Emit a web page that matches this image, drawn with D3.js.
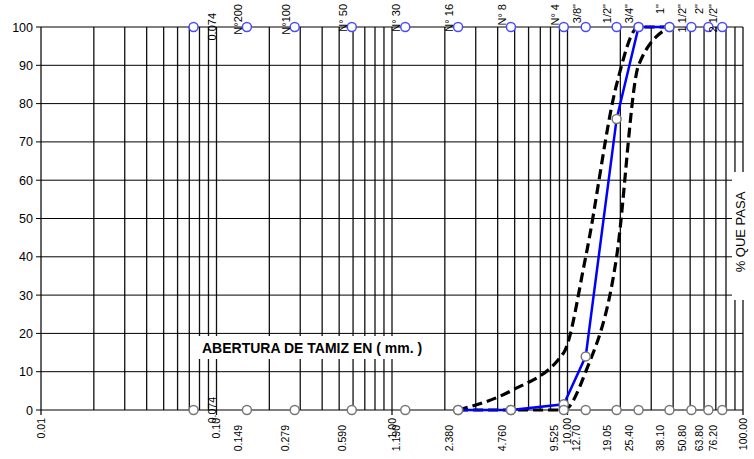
<!DOCTYPE html>
<html>
<head>
<meta charset="utf-8">
<script src="https://cdn.jsdelivr.net/npm/d3@7/dist/d3.min.js"></script>
<style>
  body { margin: 0; background: #fff; }
  text { font-family: Arial, "Liberation Sans", sans-serif; fill: #000; }
</style>
</head>
<body>
<svg id="chart" width="754" height="459"></svg>
<script>
// sieve openings (mm) shown as marker rows at 0 % and 100 %
var sieveMm = [0.074, 0.149, 0.279, 0.590, 1.190, 2.380, 4.760, 9.525, 12.70, 19.05, 25.40, 38.10, 50.80, 63.50, 76.20];
var topLabels = ["0.074", "N°200", "N°100", "N° 50", "N° 30", "N° 16", "N° 8", "N° 4", "3/8\"", "1/2\"", "3/4\"", "1\"", "1 1/2\"", "2\"", "2 1/2\""];
var bottomLabels = ["0.074", "0.149", "0.279", "0.590", "1.190", "2.380", "4.760", "9.525", "12.70", "19.05", "25.40", "38.10", "50.80", "63.80", "76.20"];
var decades = [0.01, 0.1, 1, 10, 100];
var decadeLabels = ["0.01", "0.10", "1.00", "10.00", "100.00"];

// gradation curve and limits (% passing)
var curveMm = [2.38, 4.76, 9.525, 12.70, 19.05, 25.40, 38.10];
var samplePass = [0, 0, 1.5, 14, 76, 100, 100];
var upperPass = [0, 5, 15, 40, 85, 100, 100];
var lowerPass = [0, 0, 0, 10, 40, 90, 100];

var svg = d3.select("#chart");
var x = d3.scaleLog().domain([0.01, 100]).range([41, 743]);
var y = d3.scaleLinear().domain([0, 100]).range([410, 27]);

var grid = svg.append("g");

// vertical log grid
grid.selectAll(".vline")
    .data(x.ticks())
  .enter().append("line")
    .attr("x1", function(d) { return x(d); })
    .attr("x2", function(d) { return x(d); })
    .attr("y1", y(100))
    .attr("y2", function(d) { return decades.indexOf(d) >= 0 ? 415 : y(0); })
    .attr("stroke", "#111")
    .attr("stroke-width", 1.3);

// horizontal grid
grid.selectAll(".hline")
    .data(y.ticks(10))
  .enter().append("line")
    .attr("x1", 36)
    .attr("x2", x(100))
    .attr("y1", function(d) { return y(d); })
    .attr("y2", function(d) { return y(d); })
    .attr("stroke", "#000")
    .attr("stroke-width", 1);

// y tick labels
var yAxis = d3.axisLeft(y).ticks(10).tickSize(0).tickPadding(8);
var ya = svg.append("g")
    .attr("transform", "translate(41,0)")
    .call(yAxis);
ya.select(".domain").remove();
ya.selectAll("text")
    .style("font-size", "12.5px")
    .style("font-family", "Arial, 'Liberation Sans', sans-serif")
    .attr("fill", "#000");

// white boxes behind titles
svg.append("rect").attr("x", 195).attr("y", 336).attr("width", 236).attr("height", 23).attr("fill", "#fff");
svg.append("rect").attr("x", 732).attr("y", 172).attr("width", 22).attr("height", 128).attr("fill", "#fff");

svg.append("text")
    .attr("x", 202)
    .attr("y", 353)
    .style("font-size", "14px")
    .style("font-weight", "bold")
    .text("ABERTURA DE TAMIZ EN ( mm.  )");

svg.append("text")
    .attr("transform", "translate(745,232) rotate(-90)")
    .attr("text-anchor", "middle")
    .style("font-size", "13px")
    .text("% QUE PASA");

// limit curves
function limitLine(vals) {
    return d3.line()
        .x(function(d, i) { return x(curveMm[i]); })
        .y(function(d) { return y(d); })
        .curve(d3.curveMonotoneX)(vals);
}
[upperPass, lowerPass].forEach(function(vals) {
    svg.append("path")
        .attr("d", limitLine(vals))
        .attr("fill", "none")
        .attr("stroke", "#000")
        .attr("stroke-width", 3.2)
        .attr("stroke-dasharray", "10,5");
});

// sample curve
var sampleLine = d3.line()
    .x(function(d, i) { return x(curveMm[i]); })
    .y(function(d) { return y(d); });
svg.append("path")
    .attr("d", sampleLine(samplePass))
    .attr("fill", "none")
    .attr("stroke", "#0000ff")
    .attr("stroke-width", 2.5);

svg.selectAll(".spt")
    .data(samplePass)
  .enter().append("circle")
    .attr("cx", function(d, i) { return x(curveMm[i]); })
    .attr("cy", function(d) { return y(d); })
    .attr("r", 4.5)
    .attr("fill", "#fff")
    .attr("stroke", "#777")
    .attr("stroke-width", 1.5);

// sieve marker rows
svg.selectAll(".bpt")
    .data(sieveMm)
  .enter().append("circle")
    .attr("cx", function(d) { return x(d); })
    .attr("cy", y(0))
    .attr("r", 4.5)
    .attr("fill", "#fff")
    .attr("stroke", "#777")
    .attr("stroke-width", 1.5);

svg.selectAll(".tpt")
    .data(sieveMm)
  .enter().append("circle")
    .attr("cx", function(d) { return x(d); })
    .attr("cy", y(100))
    .attr("r", 4.5)
    .attr("fill", "#fff")
    .attr("stroke", "#4a4aff")
    .attr("stroke-width", 1.5);

// labels
function labelX(i) { return x(sieveMm[i]) + (i === 0 ? 19 : -9); }

svg.selectAll(".tlab")
    .data(topLabels)
  .enter().append("text")
    .attr("transform", function(d, i) {
        return "translate(" + labelX(i) + "," + (i === 0 ? 13 : 4) + ") rotate(-90)";
    })
    .attr("dy", "0.35em")
    .attr("text-anchor", "end")
    .style("font-size", "11px")
    .text(function(d) { return d; });

svg.selectAll(".blab")
    .data(bottomLabels)
  .enter().append("text")
    .attr("transform", function(d, i) {
        return "translate(" + labelX(i) + "," + (i === 0 ? 397 : 425) + ") rotate(-90)";
    })
    .attr("dy", "0.35em")
    .attr("text-anchor", "end")
    .style("font-size", "10.5px")
    .text(function(d) { return d; });

svg.selectAll(".dlab")
    .data(decadeLabels)
  .enter().append("text")
    .attr("transform", function(d, i) {
        return "translate(" + x(decades[i]) + ",418) rotate(-90)";
    })
    .attr("dy", "0.35em")
    .attr("text-anchor", "end")
    .style("font-size", "10.5px")
    .text(function(d) { return d; });
</script>
</body>
</html>
